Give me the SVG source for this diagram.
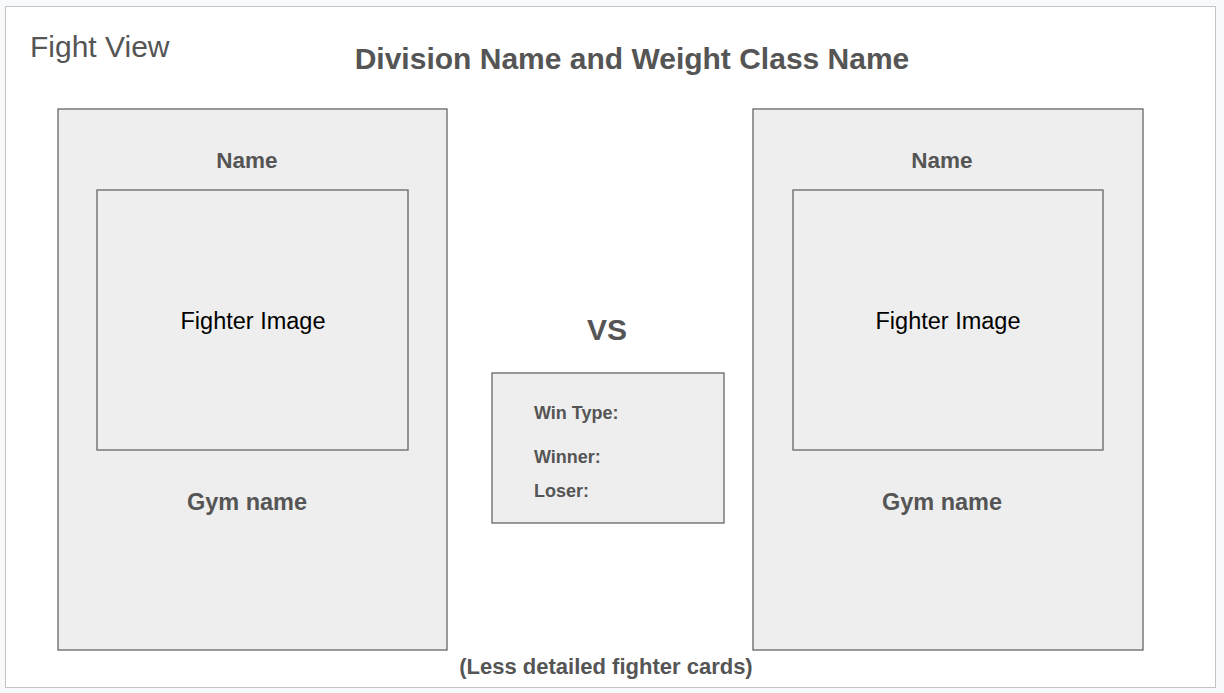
<svg xmlns="http://www.w3.org/2000/svg" width="1224" height="693" viewBox="0 0 1224 693">
<style>
.card{fill:#eeeeee;stroke:#666666;stroke-width:1.3}
.t{font-family:"Liberation Sans",Arial,sans-serif;fill:#555555}
.b{font-weight:bold}
.img{font-family:"Liberation Sans",Arial,sans-serif;fill:#000000;font-size:23.5px}
</style>
<rect x="0" y="0" width="1224" height="693" fill="#f8f9fa"/>
<rect x="5.5" y="6.5" width="1210" height="681" fill="#ffffff" stroke="#c4c4c4" stroke-width="1"/>
<text class="t" x="30" y="57" font-size="30">Fight View</text>
<text class="t b" x="632" y="69" font-size="30" text-anchor="middle">Division Name and Weight Class Name</text>
<g id="left-card">
<rect class="card" x="58" y="109" width="389" height="541"/>
<text class="t b" x="247" y="168" font-size="22.5" text-anchor="middle">Name</text>
<rect class="card" x="97" y="190" width="311" height="260"/>
<text class="img" x="253" y="329" text-anchor="middle">Fighter Image</text>
<text class="t b" x="247" y="510" font-size="23.5" text-anchor="middle">Gym name</text>
</g>
<g id="right-card">
<rect class="card" x="753" y="109" width="390" height="541"/>
<text class="t b" x="942" y="168" font-size="22.5" text-anchor="middle">Name</text>
<rect class="card" x="793" y="190" width="310" height="260"/>
<text class="img" x="948" y="329" text-anchor="middle">Fighter Image</text>
<text class="t b" x="942" y="510" font-size="23.5" text-anchor="middle">Gym name</text>
</g>
<g id="vs">
<text class="t b" x="607" y="340" font-size="30" text-anchor="middle">VS</text>
</g>
<g id="result-box">
<rect class="card" x="492" y="373" width="232" height="150"/>
<text class="t b" x="534" y="419" font-size="18">Win Type:</text>
<text class="t b" x="534" y="463" font-size="18">Winner:</text>
<text class="t b" x="534" y="497" font-size="18">Loser:</text>
</g>
<text class="t b" x="606" y="674" font-size="22" text-anchor="middle">(Less detailed fighter cards)</text>
<g id="connectors"/>
</svg>
